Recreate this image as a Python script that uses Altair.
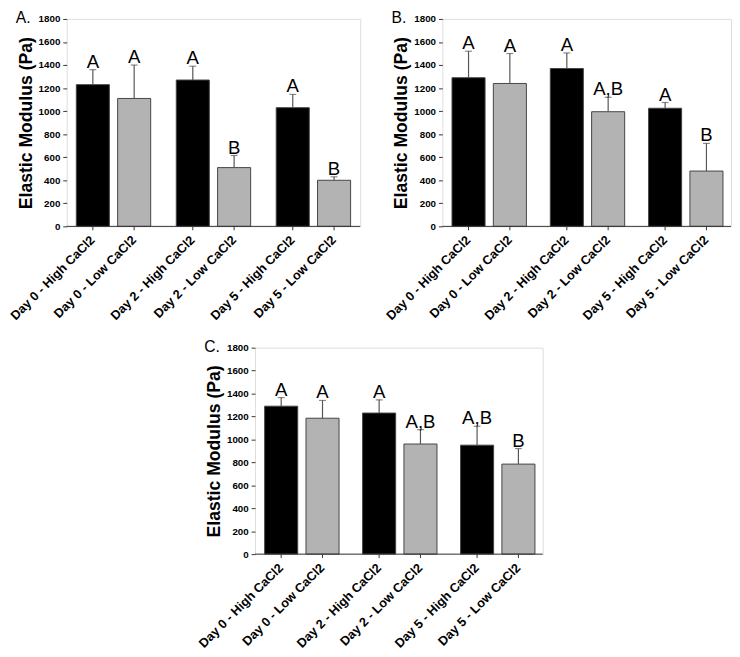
import altair as alt
import pandas as pd

days = ["Day 0", "Day 0", "Day 2", "Day 2", "Day 5", "Day 5"]
levels = ["High", "Low", "High", "Low", "High", "Low"]
labels = ["Day 0 - High CaCl2", "Day 0 - Low CaCl2", "Day 2 - High CaCl2",
          "Day 2 - Low CaCl2", "Day 5 - High CaCl2", "Day 5 - Low CaCl2"]

A_mean = [1230, 1110, 1270, 510, 1030, 400]
A_err = [130, 290, 120, 105, 115, 30]
A_sig = ["A", "A", "A", "B", "A", "B"]

B_mean = [1290, 1240, 1370, 995, 1025, 480]
B_err = [230, 260, 135, 125, 50, 240]
B_sig = ["A", "A", "A", "A,B", "A", "B"]

C_mean = [1290, 1185, 1230, 960, 950, 785]
C_err = [75, 155, 115, 125, 165, 135]
C_sig = ["A", "A", "A", "A,B", "A,B", "B"]

y_ticks = list(range(0, 1801, 200))
FONT = "Liberation Sans"


def panel(mean, err, sig, letter, w, h):
    df = pd.DataFrame({
        "day": days, "level": levels, "label": labels,
        "mean": mean, "top": [m + e for m, e in zip(mean, err)], "sig": sig,
    })
    ysc = alt.Scale(domain=[0, 1800], nice=False)
    yax = alt.Axis(values=y_ticks, format="d", labelOverlap=False,
                   title="Elastic Modulus (Pa)", titleFont=FONT,
                   titleFontSize=18, titleFontWeight="bold", titleColor="black",
                   titlePadding=3, labelFont=FONT, labelFontSize=10,
                   labelFontWeight="bold", labelPadding=3,
                   labelColor="black", tickColor="#333", tickSize=4,
                   domain=False, grid=False)
    base = alt.Chart(df).encode(
        x=alt.X("day:N", scale=alt.Scale(paddingInner=0.0635, paddingOuter=0), axis=None),
        xOffset=alt.XOffset("level:N", scale=alt.Scale(paddingInner=0.2, paddingOuter=0.2326)),
    )
    bars = base.mark_bar(stroke="#444", strokeWidth=1).encode(
        y=alt.Y("mean:Q", scale=ysc, axis=yax),
        color=alt.Color("level:N", scale=alt.Scale(domain=["High", "Low"],
                                                    range=["#000000", "#b3b3b3"]), legend=None),
    )
    rule = base.mark_rule(color="#555", strokeWidth=1.2).encode(
        y=alt.Y("mean:Q", scale=ysc, axis=yax), y2="top:Q")
    cap = base.mark_tick(color="#555", thickness=1.2, size=7, orient="horizontal").encode(
        y=alt.Y("top:Q", scale=ysc, axis=yax))
    sigtxt = base.mark_text(fontSize=19, baseline="alphabetic", dy=-2, font=FONT,
                            color="black").encode(
        y=alt.Y("top:Q", scale=ysc, axis=yax), text="sig:N")
    xline = alt.Chart(pd.DataFrame({"p": [0]})).mark_rule(color="#333").encode(
        x=alt.value(0), x2=alt.value(w), y=alt.value(h))
    xt = base.mark_rule(color="#333", xOffset=17).encode(y=alt.value(h), y2=alt.value(h + 4))
    xl = base.mark_text(angle=315, align="right", baseline="middle", fontWeight="bold",
                        fontSize=13, font=FONT, color="black", xOffset=16).encode(
        y=alt.value(h + 12), text="label:N")
    lab = alt.Chart(pd.DataFrame({"p": [letter]})).mark_text(
        fontSize=16, font=FONT, align="left", baseline="bottom", color="black").encode(
        text="p:N", x=alt.value(-52), y=alt.value(7))
    return alt.layer(bars, rule, cap, sigtxt, xline, xt, xl, lab).properties(width=w, height=h)


pA = panel(A_mean, A_err, A_sig, "A.", 300, 212)
pB = panel(B_mean, B_err, B_sig, "B.", 295, 212)
pC = panel(C_mean, C_err, C_sig, "C.", 294, 211)

top = alt.hconcat(pA, pB, spacing=23)
chart = alt.vconcat(top, pC, spacing=14, center=True).properties(
    padding={"top": -6, "left": 0, "right": 0, "bottom": 0}).configure_view(
    stroke="#808080", strokeWidth=1).configure(font=FONT)

chart.save("out.html", embed_options={"renderer": "svg", "actions": False})
